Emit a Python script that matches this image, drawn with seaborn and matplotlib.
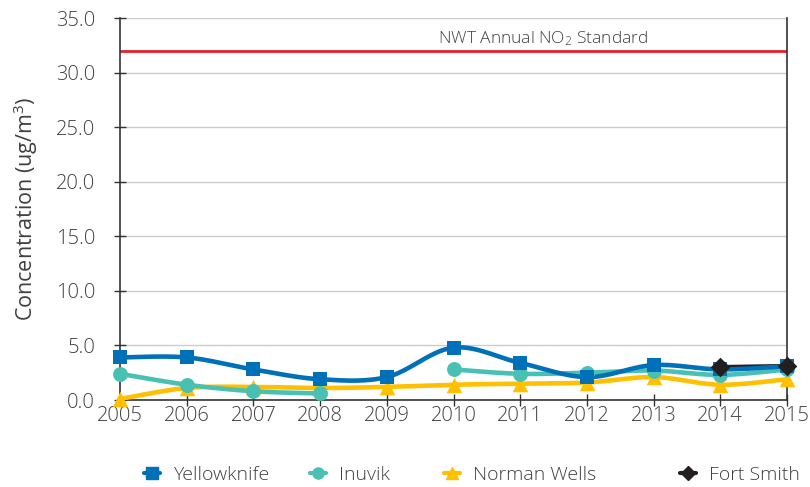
import numpy as np
import pandas as pd
import matplotlib
matplotlib.use("Agg")
import matplotlib.pyplot as plt
import matplotlib.transforms as mtransforms
import seaborn as sns
from matplotlib.lines import Line2D

years = [2005, 2006, 2007, 2008, 2009, 2010, 2011, 2012, 2013, 2014, 2015]
yellowknife = [3.9, 3.9, 2.8, 1.9, 2.1, 4.8, 3.4, 2.1, 3.2, 2.8, 3.1]
inuvik = [2.4, 1.4, 0.8, 0.6, np.nan, 2.8, 2.4, 2.5, 2.7, 2.3, 2.8]
norman_wells = [0.1, 1.1, 1.2, 1.1, 1.2, 1.4, 1.5, 1.6, 2.1, 1.4, 1.9]
fort_smith = [np.nan] * 9 + [3.0, 3.1]
standard = 32.0
series_names = ["Yellowknife", "Inuvik", "Norman Wells", "Fort Smith"]
colors = ["#0070b8", "#48c1b4", "#ffc000", "#231f20"]
markers = ["s", "o", "^", "D"]

sns.set_theme(style="white")
plt.rcParams['font.family'] = ['Open Sans', 'DejaVu Sans']
plt.rcParams['font.weight'] = 'light'
plt.rcParams['mathtext.default'] = 'regular'
TXT = "#404040"


def smooth(xs, ys, n=30):
    """Excel-like smooth line (Bezier through points) per contiguous run."""
    xs = np.asarray(xs, float)
    ys = np.asarray(ys, float)
    out_x, out_y = [], []
    ok = ~np.isnan(ys)
    runs, cur = [], []
    for i in range(len(xs)):
        if ok[i]:
            cur.append(i)
        else:
            if cur:
                runs.append(cur)
            cur = []
    if cur:
        runs.append(cur)
    for run in runs:
        px = xs[run]
        py = ys[run]
        m = len(px)
        if m == 1:
            out_x += [px[0], np.nan]
            out_y += [py[0], np.nan]
            continue
        t = np.linspace(0, 1, n)
        for i in range(m - 1):
            p0 = np.array([px[i], py[i]])
            p3 = np.array([px[i + 1], py[i + 1]])
            pm = np.array([px[i - 1], py[i - 1]]) if i > 0 else p0
            pp = np.array([px[i + 2], py[i + 2]]) if i + 2 < m else p3
            c1 = p0 + (p3 - pm) / 6.0
            c2 = p3 - (pp - p0) / 6.0
            b = ((1 - t) ** 3)[:, None] * p0 + (3 * (1 - t) ** 2 * t)[:, None] * c1 \
                + (3 * (1 - t) * t ** 2)[:, None] * c2 + (t ** 3)[:, None] * p3
            out_x += list(b[:, 0])
            out_y += list(b[:, 1])
        out_x.append(np.nan)
        out_y.append(np.nan)
    return out_x, out_y


fig = plt.figure(figsize=(8.1, 4.87), dpi=100)
ax = fig.add_axes([120 / 810, 1 - 400 / 487, (787 - 120) / 810, (400 - 18) / 487])

data = [yellowknife, inuvik, norman_wells, fort_smith]
zl = {"Yellowknife": 3.6, "Inuvik": 3.4, "Norman Wells": 3.2, "Fort Smith": 3.0}
for name, vals, col, mk in zip(series_names, data, colors, markers):
    sx, sy = smooth(years, vals)
    ax.plot(sx, sy, color=col, lw=3.3, solid_capstyle='round', zorder=zl[name])
    df = pd.DataFrame({"year": years, "value": vals}).dropna()
    msize = {"s": 115, "o": 115, "^": 125, "D": 100}[mk]
    mz = 5.0 if name == "Fort Smith" else zl[name] + 1
    sns.scatterplot(data=df, x="year", y="value", ax=ax, marker=mk, color=col,
                    s=msize, edgecolor=col, linewidth=0, zorder=mz,
                    legend=False, clip_on=False)

ax.axhline(standard, color="#e5202e", lw=2, zorder=2)
trans = mtransforms.blended_transform_factory(ax.transAxes, ax.transData)
ax.text((543 - 120) / 667, 32.25, "NWT Annual NO$_2$ Standard", ha="center", va="bottom",
        fontsize=12.5, color=TXT, transform=trans)

ax.set_xlim(2005, 2015)
ax.set_ylim(0, 35)
ax.set_xticks(years)
ax.set_xticklabels([str(y) for y in years])
ax.set_yticks(np.arange(0, 36, 5))
ax.set_yticklabels([f"{v:.1f}" for v in np.arange(0, 36, 5)])
ax.grid(axis="y", color="#cccccc", lw=1)
ax.set_axisbelow(True)
for s in ["left", "bottom", "right"]:
    ax.spines[s].set_color("#333333")
    ax.spines[s].set_linewidth(1.2)
ax.spines["top"].set_visible(False)
ax.tick_params(axis="y", direction="inout", length=8, width=1, color="#333333",
               labelsize=14.5, labelcolor=TXT, left=True, pad=14)
ax.tick_params(axis="x", direction="inout", length=8, width=1, color="#333333",
               labelsize=14.5, labelcolor=TXT, bottom=True, pad=0)
ax.set_xlabel("")
ax.set_ylabel("Concentration (ug/m$^3$)", fontsize=15.5, color=TXT, labelpad=11)

legend_x = [152, 318, 452, 688]
for name, c, m, lx in zip(series_names, colors, markers, legend_x):
    h = Line2D([0], [0], color=c, lw=3, marker=m, markersize=8 if m != "D" else 7.5)
    leg = fig.legend([h], [name], loc="center left",
                     bbox_to_anchor=((lx - 7.8) / 810, 1 - 475 / 487),
                     frameon=False, fontsize=14, labelcolor=TXT, handlelength=0.8,
                     handletextpad=0.7, borderpad=0, borderaxespad=0)

fig.savefig("out.png", dpi=100)
